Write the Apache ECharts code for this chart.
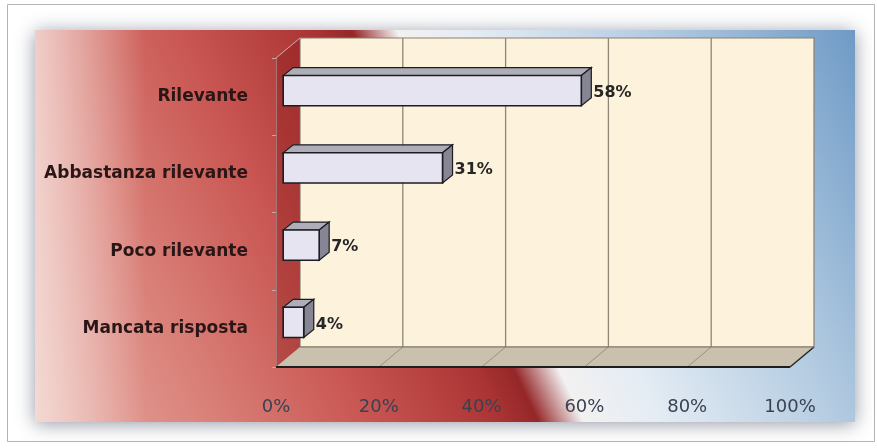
<!DOCTYPE html>
<html><head><meta charset="utf-8">
<script src="https://cdn.jsdelivr.net/npm/echarts@6/dist/echarts.min.js"></script>
<style>html,body{margin:0;padding:0;background:#fff}#c{width:877px;height:448px}</style>
</head><body><div id="c"></div>
<script>
// ---- data ----
const categories = ['Rilevante', 'Abbastanza rilevante', 'Poco rilevante', 'Mancata risposta'];
const values = [58, 31, 7, 4];
const xTicks = [0, 20, 40, 60, 80, 100];

// ---- style constants ----
const DX = 24, DY = -20;           // 3D depth of the plot box
const BAR_OFF = 0.3;               // bar front face position inside depth
const BDX = 10, BDY = -8;          // bar depth
const tickColors = ['#7a3535', '#7e1e1e', '#6a2222', '#3a4252', '#3a4252', '#3a4252'];

const chart = echarts.init(document.getElementById('c'), null, {renderer: 'canvas'});

function wallsRender(params, api) {
  const cs = params.coordSys;
  const L = cs.x, T = cs.y, R = cs.x + cs.width, B = cs.y + cs.height;
  const ch = [];
  // back wall
  ch.push({type: 'rect', shape: {x: L + DX, y: T + DY, width: R - L, height: B - T},
    style: {fill: '#fdf3dd', stroke: '#8a8070', lineWidth: 1.2}});
  // left wall (translucent)
  ch.push({type: 'polygon', shape: {points: [[L, T], [L + DX, T + DY], [L + DX, B + DY], [L, B]]},
    style: {fill: 'rgba(130,20,20,0.35)', stroke: null}});
  // floor
  ch.push({type: 'polygon', shape: {points: [[L, B], [R, B], [R + DX, B + DY], [L + DX, B + DY]]},
    style: {fill: '#c9c0ae', stroke: null}});
  // grid lines on back wall and floor
  xTicks.forEach(function (t, i) {
    const x = api.coord([t, 0])[0];
    if (i > 0 && i < xTicks.length - 1) {
      ch.push({type: 'line', shape: {x1: x + DX, y1: T + DY, x2: x + DX, y2: B + DY},
        style: {stroke: '#8f8676', lineWidth: 1.3}});
    }
    if (i > 0 && i < xTicks.length) {
      ch.push({type: 'line', shape: {x1: x + DX, y1: B + DY, x2: x, y2: B},
        style: {stroke: '#9a9180', lineWidth: 1}});
    }
  });
  // floor edges
  ch.push({type: 'line', shape: {x1: L, y1: B, x2: R, y2: B}, style: {stroke: '#1e1e1e', lineWidth: 2}});
  ch.push({type: 'line', shape: {x1: R, y1: B, x2: R + DX, y2: B + DY}, style: {stroke: '#2a2a2a', lineWidth: 1.5}});
  ch.push({type: 'line', shape: {x1: L + DX, y1: B + DY, x2: R + DX, y2: B + DY}, style: {stroke: '#7a7060', lineWidth: 1}});
  // left wall top edge
  ch.push({type: 'line', shape: {x1: L, y1: T, x2: L + DX, y2: T + DY}, style: {stroke: '#c8b0b0', lineWidth: 1}});
  return {type: 'group', children: ch};
}

function barRender(params, api) {
  const v = api.value(0), idx = api.value(1);
  const p0 = api.coord([0, idx]), p1 = api.coord([v, idx]);
  const band = api.size([0, 1])[1];
  const h = band * 0.39;
  const ox = DX * BAR_OFF, oy = DY * BAR_OFF;
  const x0 = p0[0] + ox, x1 = p1[0] + ox;
  const top = p0[1] + oy - h / 2, bot = top + h;
  const stroke = '#1c1c22';
  return {type: 'group', children: [
    {type: 'polygon', shape: {points: [[x0, top], [x1, top], [x1 + BDX, top + BDY], [x0 + BDX, top + BDY]]},
      style: {fill: '#aeaeb8', stroke: stroke, lineWidth: 1.2}},
    {type: 'polygon', shape: {points: [[x1, top], [x1 + BDX, top + BDY], [x1 + BDX, bot + BDY], [x1, bot]]},
      style: {fill: '#858594', stroke: stroke, lineWidth: 1.2}},
    {type: 'rect', shape: {x: x0, y: top, width: x1 - x0, height: h},
      style: {fill: '#e6e4f1', stroke: stroke, lineWidth: 1.6}},
    {type: 'text', style: {x: x1 + BDX + 2, y: p0[1] + oy + 2, text: v + '%', fill: '#262626',
      font: 'bold 16px "DejaVu Sans"', textAlign: 'left', textVerticalAlign: 'middle'}}
  ]};
}

const option = {
  backgroundColor: '#ffffff',
  animation: false,
  graphic: [
    {type: 'rect', z: -100, shape: {x: 7.5, y: 4.5, width: 867, height: 437},
      style: {fill: '#ffffff', stroke: '#b4b4b4', lineWidth: 1}},
    {type: 'rect', z: -99, shape: {x: 35, y: 30, width: 820, height: 392},
      style: {
        fill: {type: 'linear', x: 35, y: 422, x2: 855, y2: 30, global: true, colorStops: [
          {offset: 0, color: '#e6aca4'},
          {offset: 0.18, color: '#d98078'},
          {offset: 0.33, color: '#c95652'},
          {offset: 0.46, color: '#ab3534'},
          {offset: 0.5, color: '#952729'},
          {offset: 0.545, color: '#f3f1f1'},
          {offset: 0.62, color: '#e4ecf4'},
          {offset: 0.8, color: '#b3cbe1'},
          {offset: 1, color: '#6e9ac6'}
        ]},
        shadowBlur: 18, shadowColor: 'rgba(40,50,75,0.5)', shadowOffsetY: 2
      }},
    {type: 'rect', z: -98, shape: {x: 35, y: 30, width: 110, height: 392},
      style: {fill: {type: 'linear', x: 0, y: 0, x2: 1, y2: 0, colorStops: [
        {offset: 0, color: 'rgba(248,232,228,0.75)'},
        {offset: 1, color: 'rgba(248,232,228,0)'}
      ]}}}
  ],
  grid: {left: 276, right: 87, top: 58, bottom: 81, containLabel: false},
  xAxis: {
    type: 'value', min: 0, max: 100, interval: 20,
    axisLine: {show: false}, axisTick: {show: false}, splitLine: {show: false},
    axisLabel: {
      formatter: '{value}%', margin: 31, fontSize: 18, fontFamily: 'DejaVu Sans',
      color: function (val) { return tickColors[xTicks.indexOf(val)] || '#3a4252'; }
    }
  },
  yAxis: {
    type: 'category', data: categories, inverse: true,
    axisLine: {show: true, lineStyle: {color: '#c4a8a8', width: 1}},
    axisTick: {show: true, length: 4, lineStyle: {color: '#c4a8a8'}},
    axisLabel: {margin: 28, fontSize: 17, fontWeight: 'bold', fontFamily: 'DejaVu Sans', color: '#2a1616'},
    splitLine: {show: false}
  },
  series: [
    {type: 'custom', z: 1, renderItem: wallsRender, data: [[0, 0]], silent: true},
    {type: 'custom', z: 3, renderItem: barRender,
      data: values.map(function (v, i) { return [v, i]; })}
  ]
};
chart.setOption(option);
</script>
</body></html>
